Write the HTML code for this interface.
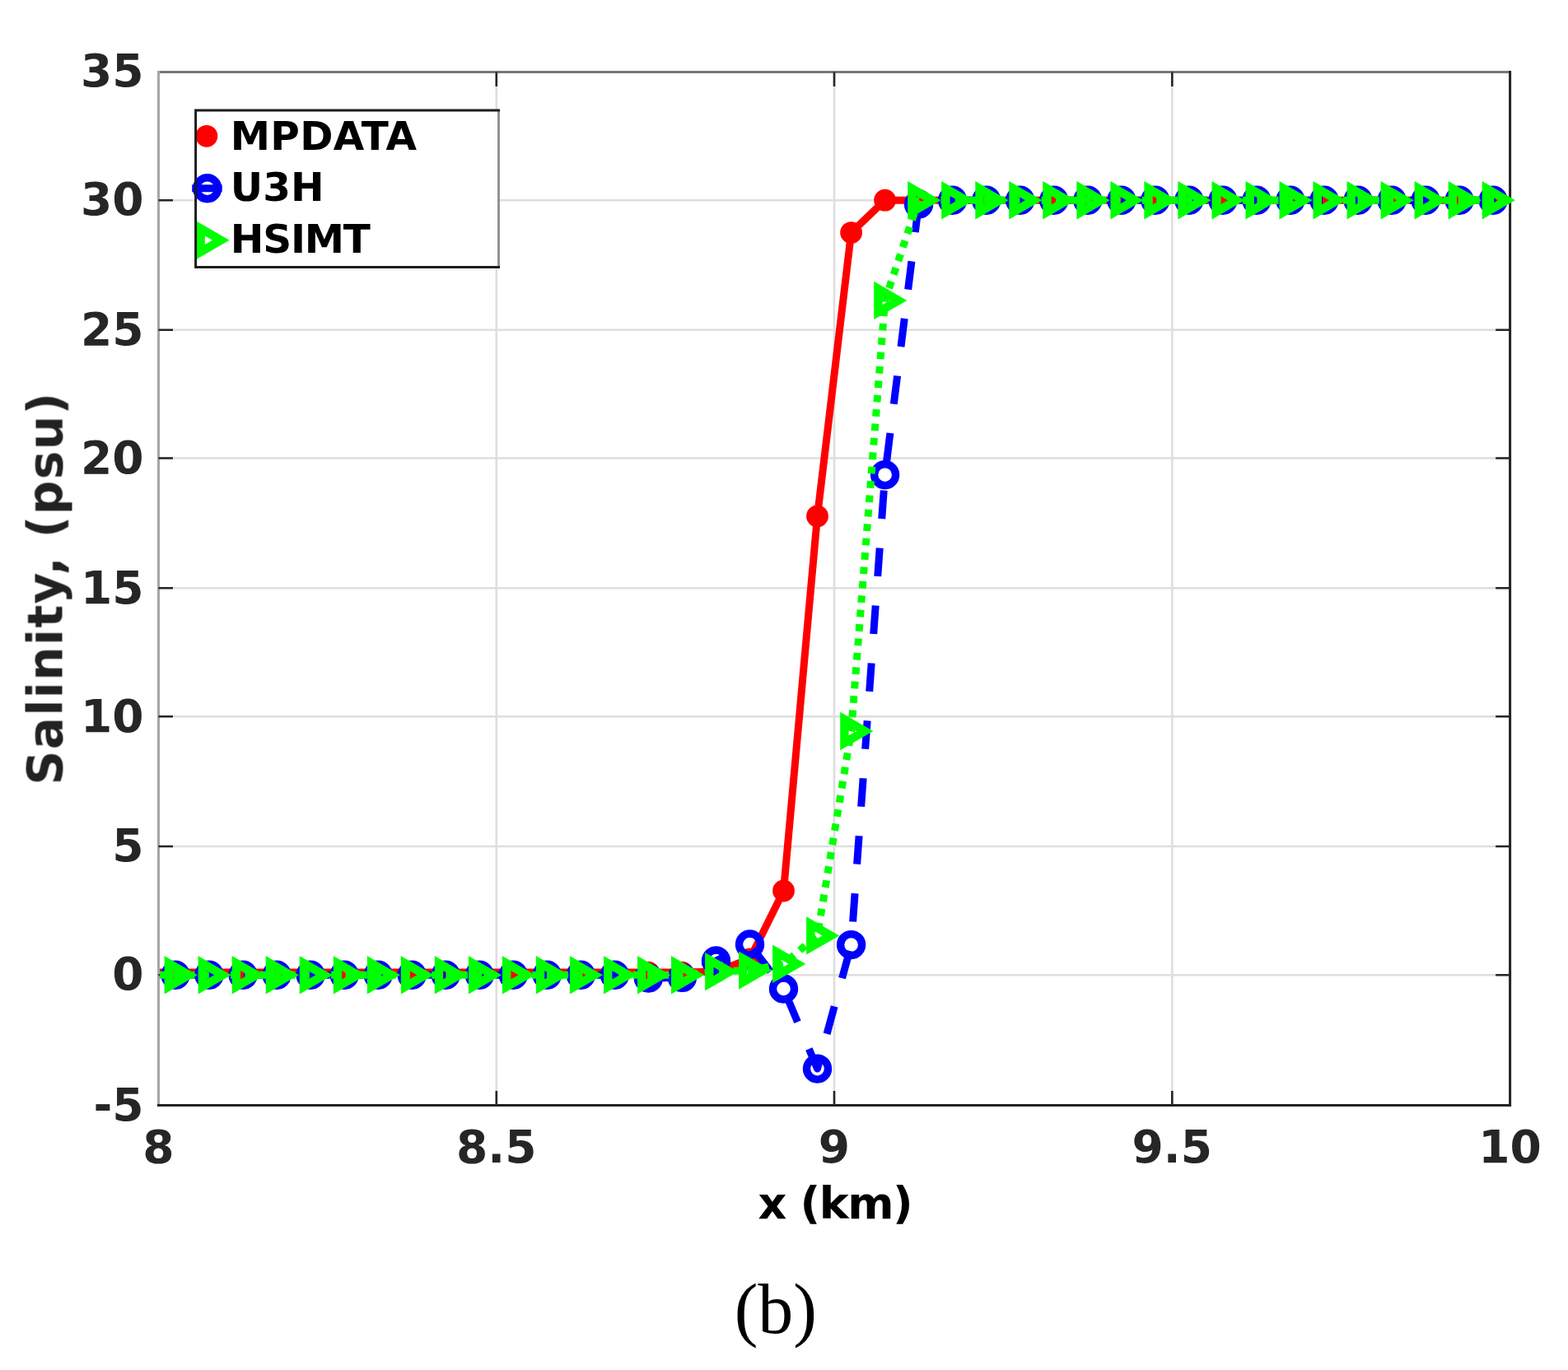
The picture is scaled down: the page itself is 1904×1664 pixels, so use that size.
<!DOCTYPE html>
<html lang="en"><head><meta charset="utf-8"><title>Salinity profile (b)</title>
<style>
html,body{margin:0;padding:0;background:#fff;}
body{width:1904px;height:1664px;overflow:hidden;position:relative;}
svg{position:absolute;left:0;top:0;display:block;}
.tk{font-family:"DejaVu Sans","Liberation Sans",sans-serif;font-weight:bold;font-size:55px;fill:#262626;}
.lb{font-family:"DejaVu Sans","Liberation Sans",sans-serif;font-weight:bold;font-size:54px;fill:#000;}
.lg{font-family:"DejaVu Sans","Liberation Sans",sans-serif;font-weight:bold;font-size:48.5px;fill:#000;}
.cap{font-family:"Liberation Serif","DejaVu Serif",serif;font-size:86px;fill:#000;}
</style></head><body>
<svg width="1904" height="1664" viewBox="0 0 1904 1664">
<rect x="0" y="0" width="1904" height="1664" fill="#ffffff"/>
<defs><filter id="soft" x="0" y="0" width="1904" height="1664" filterUnits="userSpaceOnUse"><feGaussianBlur stdDeviation="0.7"/></filter></defs>
<g filter="url(#soft)">
<defs><clipPath id="pc"><rect x="194.0" y="87.5" width="1639.6" height="1254.9"/></clipPath></defs>
<path d="M602.8 87.5V1342.4M1013.0 87.5V1342.4M1423.3 87.5V1342.4M192.5 243.2H1833.6M192.5 400.8H1833.6M192.5 556.5H1833.6M192.5 714.3H1833.6M192.5 870.3H1833.6M192.5 1028.0H1833.6M192.5 1184.2H1833.6" stroke="#dedede" stroke-width="2.6" fill="none"/>
<path d="M192.5 86.0V1343.9" stroke="#a6a6a6" stroke-width="3" fill="none"/>
<path d="M194.0 87.5H1833.6" stroke="#777" stroke-width="3" fill="none"/>
<path d="M191.0 1342.4H1833.6V86.0" stroke="#222" stroke-width="3" fill="none" stroke-linejoin="miter"/>
<path d="M602.8 1342.4v-17.5M602.8 87.5v17.5M1013.0 1342.4v-17.5M1013.0 87.5v17.5M1423.3 1342.4v-17.5M1423.3 87.5v17.5M192.5 243.2h17.5M1833.6 243.2h-17.5M192.5 400.8h17.5M1833.6 400.8h-17.5M192.5 556.5h17.5M1833.6 556.5h-17.5M192.5 714.3h17.5M1833.6 714.3h-17.5M192.5 870.3h17.5M1833.6 870.3h-17.5M192.5 1028.0h17.5M1833.6 1028.0h-17.5M192.5 1184.2h17.5M1833.6 1184.2h-17.5" stroke="#262626" stroke-width="2.6" fill="none"/>
<g id="series">
<polyline clip-path="url(#pc)" points="172.0,1181.1 213.0,1181.1 254.0,1181.1 295.1,1181.1 336.1,1181.1 377.1,1181.1 418.2,1181.1 459.2,1181.1 500.2,1181.1 541.2,1181.1 582.3,1181.1 623.3,1181.1 664.3,1181.1 705.3,1181.1 746.4,1181.1 787.4,1181.1 828.4,1181.1 869.5,1180.1 910.5,1164.8 951.5,1082.0 992.5,626.9 1033.6,282.6 1074.6,243.2 1115.6,243.2 1156.6,243.2 1197.7,243.2 1238.7,243.2 1279.7,243.2 1320.8,243.2 1361.8,243.2 1402.8,243.2 1443.8,243.2 1484.9,243.2 1525.9,243.2 1566.9,243.2 1607.9,243.2 1649.0,243.2 1690.0,243.2 1731.0,243.2 1772.1,243.2 1813.1,243.2 1854.1,243.2" fill="none" stroke="#f00" stroke-width="9.0" stroke-linejoin="round"/>
<g fill="#f00"><circle cx="213.0" cy="1181.1" r="13.4"/><circle cx="254.0" cy="1181.1" r="13.4"/><circle cx="295.1" cy="1181.1" r="13.4"/><circle cx="336.1" cy="1181.1" r="13.4"/><circle cx="377.1" cy="1181.1" r="13.4"/><circle cx="418.2" cy="1181.1" r="13.4"/><circle cx="459.2" cy="1181.1" r="13.4"/><circle cx="500.2" cy="1181.1" r="13.4"/><circle cx="541.2" cy="1181.1" r="13.4"/><circle cx="582.3" cy="1181.1" r="13.4"/><circle cx="623.3" cy="1181.1" r="13.4"/><circle cx="664.3" cy="1181.1" r="13.4"/><circle cx="705.3" cy="1181.1" r="13.4"/><circle cx="746.4" cy="1181.1" r="13.4"/><circle cx="787.4" cy="1181.1" r="13.4"/><circle cx="828.4" cy="1181.1" r="13.4"/><circle cx="869.5" cy="1180.1" r="13.4"/><circle cx="910.5" cy="1164.8" r="13.4"/><circle cx="951.5" cy="1082.0" r="13.4"/><circle cx="992.5" cy="626.9" r="13.4"/><circle cx="1033.6" cy="282.6" r="13.4"/><circle cx="1074.6" cy="243.2" r="13.4"/><circle cx="1115.6" cy="243.2" r="13.4"/><circle cx="1156.6" cy="243.2" r="13.4"/><circle cx="1197.7" cy="243.2" r="13.4"/><circle cx="1238.7" cy="243.2" r="13.4"/><circle cx="1279.7" cy="243.2" r="13.4"/><circle cx="1320.8" cy="243.2" r="13.4"/><circle cx="1361.8" cy="243.2" r="13.4"/><circle cx="1402.8" cy="243.2" r="13.4"/><circle cx="1443.8" cy="243.2" r="13.4"/><circle cx="1484.9" cy="243.2" r="13.4"/><circle cx="1525.9" cy="243.2" r="13.4"/><circle cx="1566.9" cy="243.2" r="13.4"/><circle cx="1607.9" cy="243.2" r="13.4"/><circle cx="1649.0" cy="243.2" r="13.4"/><circle cx="1690.0" cy="243.2" r="13.4"/><circle cx="1731.0" cy="243.2" r="13.4"/><circle cx="1772.1" cy="243.2" r="13.4"/><circle cx="1813.1" cy="243.2" r="13.4"/></g>
<polyline clip-path="url(#pc)" points="172.0,1184.2 213.0,1184.2 254.0,1184.2 295.1,1184.2 336.1,1184.2 377.1,1184.2 418.2,1184.2 459.2,1184.2 500.2,1184.2 541.2,1184.2 582.3,1184.2 623.3,1184.2 664.3,1184.2 705.3,1184.2 746.4,1184.2 787.4,1188.0 828.4,1187.4 869.5,1167.0 910.5,1147.0 951.5,1201.0 992.5,1298.1 1033.6,1147.6 1074.6,576.7 1115.6,247.9 1156.6,243.2 1197.7,243.2 1238.7,243.2 1279.7,243.2 1320.8,243.2 1361.8,243.2 1402.8,243.2 1443.8,243.2 1484.9,243.2 1525.9,243.2 1566.9,243.2 1607.9,243.2 1649.0,243.2 1690.0,243.2 1731.0,243.2 1772.1,243.2 1813.1,243.2 1854.1,243.2" fill="none" stroke="#00f" stroke-width="9.0" stroke-dasharray="34.50 35.60" stroke-dashoffset="16.18" stroke-linejoin="round"/>
<g fill="none" stroke="#00f" stroke-width="9.4"><circle cx="213.0" cy="1184.2" r="13.0"/><circle cx="254.0" cy="1184.2" r="13.0"/><circle cx="295.1" cy="1184.2" r="13.0"/><circle cx="336.1" cy="1184.2" r="13.0"/><circle cx="377.1" cy="1184.2" r="13.0"/><circle cx="418.2" cy="1184.2" r="13.0"/><circle cx="459.2" cy="1184.2" r="13.0"/><circle cx="500.2" cy="1184.2" r="13.0"/><circle cx="541.2" cy="1184.2" r="13.0"/><circle cx="582.3" cy="1184.2" r="13.0"/><circle cx="623.3" cy="1184.2" r="13.0"/><circle cx="664.3" cy="1184.2" r="13.0"/><circle cx="705.3" cy="1184.2" r="13.0"/><circle cx="746.4" cy="1184.2" r="13.0"/><circle cx="787.4" cy="1188.0" r="13.0"/><circle cx="828.4" cy="1187.4" r="13.0"/><circle cx="869.5" cy="1167.0" r="13.0"/><circle cx="910.5" cy="1147.0" r="13.0"/><circle cx="951.5" cy="1201.0" r="13.0"/><circle cx="992.5" cy="1298.1" r="13.0"/><circle cx="1033.6" cy="1147.6" r="13.0"/><circle cx="1074.6" cy="576.7" r="13.0"/><circle cx="1115.6" cy="247.9" r="13.0"/><circle cx="1156.6" cy="243.2" r="13.0"/><circle cx="1197.7" cy="243.2" r="13.0"/><circle cx="1238.7" cy="243.2" r="13.0"/><circle cx="1279.7" cy="243.2" r="13.0"/><circle cx="1320.8" cy="243.2" r="13.0"/><circle cx="1361.8" cy="243.2" r="13.0"/><circle cx="1402.8" cy="243.2" r="13.0"/><circle cx="1443.8" cy="243.2" r="13.0"/><circle cx="1484.9" cy="243.2" r="13.0"/><circle cx="1525.9" cy="243.2" r="13.0"/><circle cx="1566.9" cy="243.2" r="13.0"/><circle cx="1607.9" cy="243.2" r="13.0"/><circle cx="1649.0" cy="243.2" r="13.0"/><circle cx="1690.0" cy="243.2" r="13.0"/><circle cx="1731.0" cy="243.2" r="13.0"/><circle cx="1772.1" cy="243.2" r="13.0"/><circle cx="1813.1" cy="243.2" r="13.0"/></g>
<polyline clip-path="url(#pc)" points="172.0,1184.2 213.0,1184.2 254.0,1184.2 295.1,1184.2 336.1,1184.2 377.1,1184.2 418.2,1184.2 459.2,1184.2 500.2,1184.2 541.2,1184.2 582.3,1184.2 623.3,1184.2 664.3,1184.2 705.3,1184.2 746.4,1184.2 787.4,1184.2 828.4,1184.2 869.5,1180.1 910.5,1178.6 951.5,1170.8 992.5,1136.4 1033.6,888.0 1074.6,364.9 1115.6,243.2 1156.6,243.2 1197.7,243.2 1238.7,243.2 1279.7,243.2 1320.8,243.2 1361.8,243.2 1402.8,243.2 1443.8,243.2 1484.9,243.2 1525.9,243.2 1566.9,243.2 1607.9,243.2 1649.0,243.2 1690.0,243.2 1731.0,243.2 1772.1,243.2 1813.1,243.2 1854.1,243.2" fill="none" stroke="#0f0" stroke-width="9.0" stroke-dasharray="8.70 8.75" stroke-dashoffset="14.16" stroke-linejoin="round"/>
<path d="M229.4 1184.2L204.8 1170.0L204.8 1198.4ZM270.4 1184.2L245.8 1170.0L245.8 1198.4ZM311.5 1184.2L286.9 1170.0L286.9 1198.4ZM352.5 1184.2L327.9 1170.0L327.9 1198.4ZM393.5 1184.2L368.9 1170.0L368.9 1198.4ZM434.6 1184.2L410.0 1170.0L410.0 1198.4ZM475.6 1184.2L451.0 1170.0L451.0 1198.4ZM516.6 1184.2L492.0 1170.0L492.0 1198.4ZM557.6 1184.2L533.0 1170.0L533.0 1198.4ZM598.7 1184.2L574.1 1170.0L574.1 1198.4ZM639.7 1184.2L615.1 1170.0L615.1 1198.4ZM680.7 1184.2L656.1 1170.0L656.1 1198.4ZM721.7 1184.2L697.1 1170.0L697.1 1198.4ZM762.8 1184.2L738.2 1170.0L738.2 1198.4ZM803.8 1184.2L779.2 1170.0L779.2 1198.4ZM844.8 1184.2L820.2 1170.0L820.2 1198.4ZM885.9 1180.1L861.3 1165.9L861.3 1194.3ZM926.9 1178.6L902.3 1164.4L902.3 1192.8ZM967.9 1170.8L943.3 1156.6L943.3 1185.0ZM1008.9 1136.4L984.3 1122.2L984.3 1150.6ZM1050.0 888.0L1025.4 873.8L1025.4 902.2ZM1091.0 364.9L1066.4 350.7L1066.4 379.1ZM1132.0 243.2L1107.4 229.0L1107.4 257.4ZM1173.0 243.2L1148.4 229.0L1148.4 257.4ZM1214.1 243.2L1189.5 229.0L1189.5 257.4ZM1255.1 243.2L1230.5 229.0L1230.5 257.4ZM1296.1 243.2L1271.5 229.0L1271.5 257.4ZM1337.2 243.2L1312.6 229.0L1312.6 257.4ZM1378.2 243.2L1353.6 229.0L1353.6 257.4ZM1419.2 243.2L1394.6 229.0L1394.6 257.4ZM1460.2 243.2L1435.6 229.0L1435.6 257.4ZM1501.3 243.2L1476.7 229.0L1476.7 257.4ZM1542.3 243.2L1517.7 229.0L1517.7 257.4ZM1583.3 243.2L1558.7 229.0L1558.7 257.4ZM1624.3 243.2L1599.7 229.0L1599.7 257.4ZM1665.4 243.2L1640.8 229.0L1640.8 257.4ZM1706.4 243.2L1681.8 229.0L1681.8 257.4ZM1747.4 243.2L1722.8 229.0L1722.8 257.4ZM1788.5 243.2L1763.9 229.0L1763.9 257.4ZM1829.5 243.2L1804.9 229.0L1804.9 257.4Z" fill="none" stroke="#0f0" stroke-width="10.4" stroke-linejoin="miter" stroke-miterlimit="10"/>
</g>
<rect x="237.6" y="133.9" width="367.9" height="190.5" fill="#fff"/>
<circle cx="250.9" cy="165.3" r="13.4" fill="#f00"/>
<path d="M233.2 228.7H269.6" stroke="#00f" stroke-width="9" fill="none"/>
<circle cx="251.7" cy="228.7" r="13.0" fill="none" stroke="#00f" stroke-width="9.4"/>
<path d="M268.2 291.8L243.6 277.6L243.6 306.0Z" fill="none" stroke="#0f0" stroke-width="10.4" stroke-linejoin="miter" stroke-miterlimit="10"/>
<path d="M605.5 133.9V324.4" stroke="#888" stroke-width="2.7" fill="none"/>
<path d="M605.5 133.9H237.6V324.4H605.5" stroke="#1c1c1c" stroke-width="3" fill="none" stroke-linecap="square"/>
<text class="lg" x="279.8" y="181.5" style="letter-spacing:0.3px">MPDATA</text>
<text class="lg" x="279.8" y="244.3">U3H</text>
<text class="lg" x="279.8" y="307.0" style="letter-spacing:-1.2px">HSIMT</text>
<text class="tk" text-anchor="end" x="174.5" y="104.8">35</text>
<text class="tk" text-anchor="end" x="174.5" y="261.4">30</text>
<text class="tk" text-anchor="end" x="174.5" y="419.0">25</text>
<text class="tk" text-anchor="end" x="174.5" y="574.7">20</text>
<text class="tk" text-anchor="end" x="174.5" y="732.5">15</text>
<text class="tk" text-anchor="end" x="174.5" y="888.5">10</text>
<text class="tk" text-anchor="end" x="174.5" y="1046.2">5</text>
<text class="tk" text-anchor="end" x="174.5" y="1202.4">0</text>
<text class="tk" text-anchor="end" x="174.5" y="1360.6">-5</text>
<text class="tk" text-anchor="middle" x="192.5" y="1411.6">8</text>
<text class="tk" text-anchor="middle" x="602.8" y="1411.6">8.5</text>
<text class="tk" text-anchor="middle" x="1013.0" y="1411.6">9</text>
<text class="tk" text-anchor="middle" x="1423.3" y="1411.6">9.5</text>
<text class="tk" text-anchor="middle" x="1833.6" y="1411.6">10</text>
<text class="lb" text-anchor="middle" x="1014" y="1479.7" style="letter-spacing:-1.4px">x (km)</text>
<text class="lb" style="fill:#222;font-size:58px;letter-spacing:1.5px" text-anchor="middle" transform="translate(75.5 714.5) rotate(-90)">Salinity, (psu)</text>
</g>
<text class="cap" text-anchor="middle" x="941.8" y="1619.4">(b)</text>
</svg></body></html>
